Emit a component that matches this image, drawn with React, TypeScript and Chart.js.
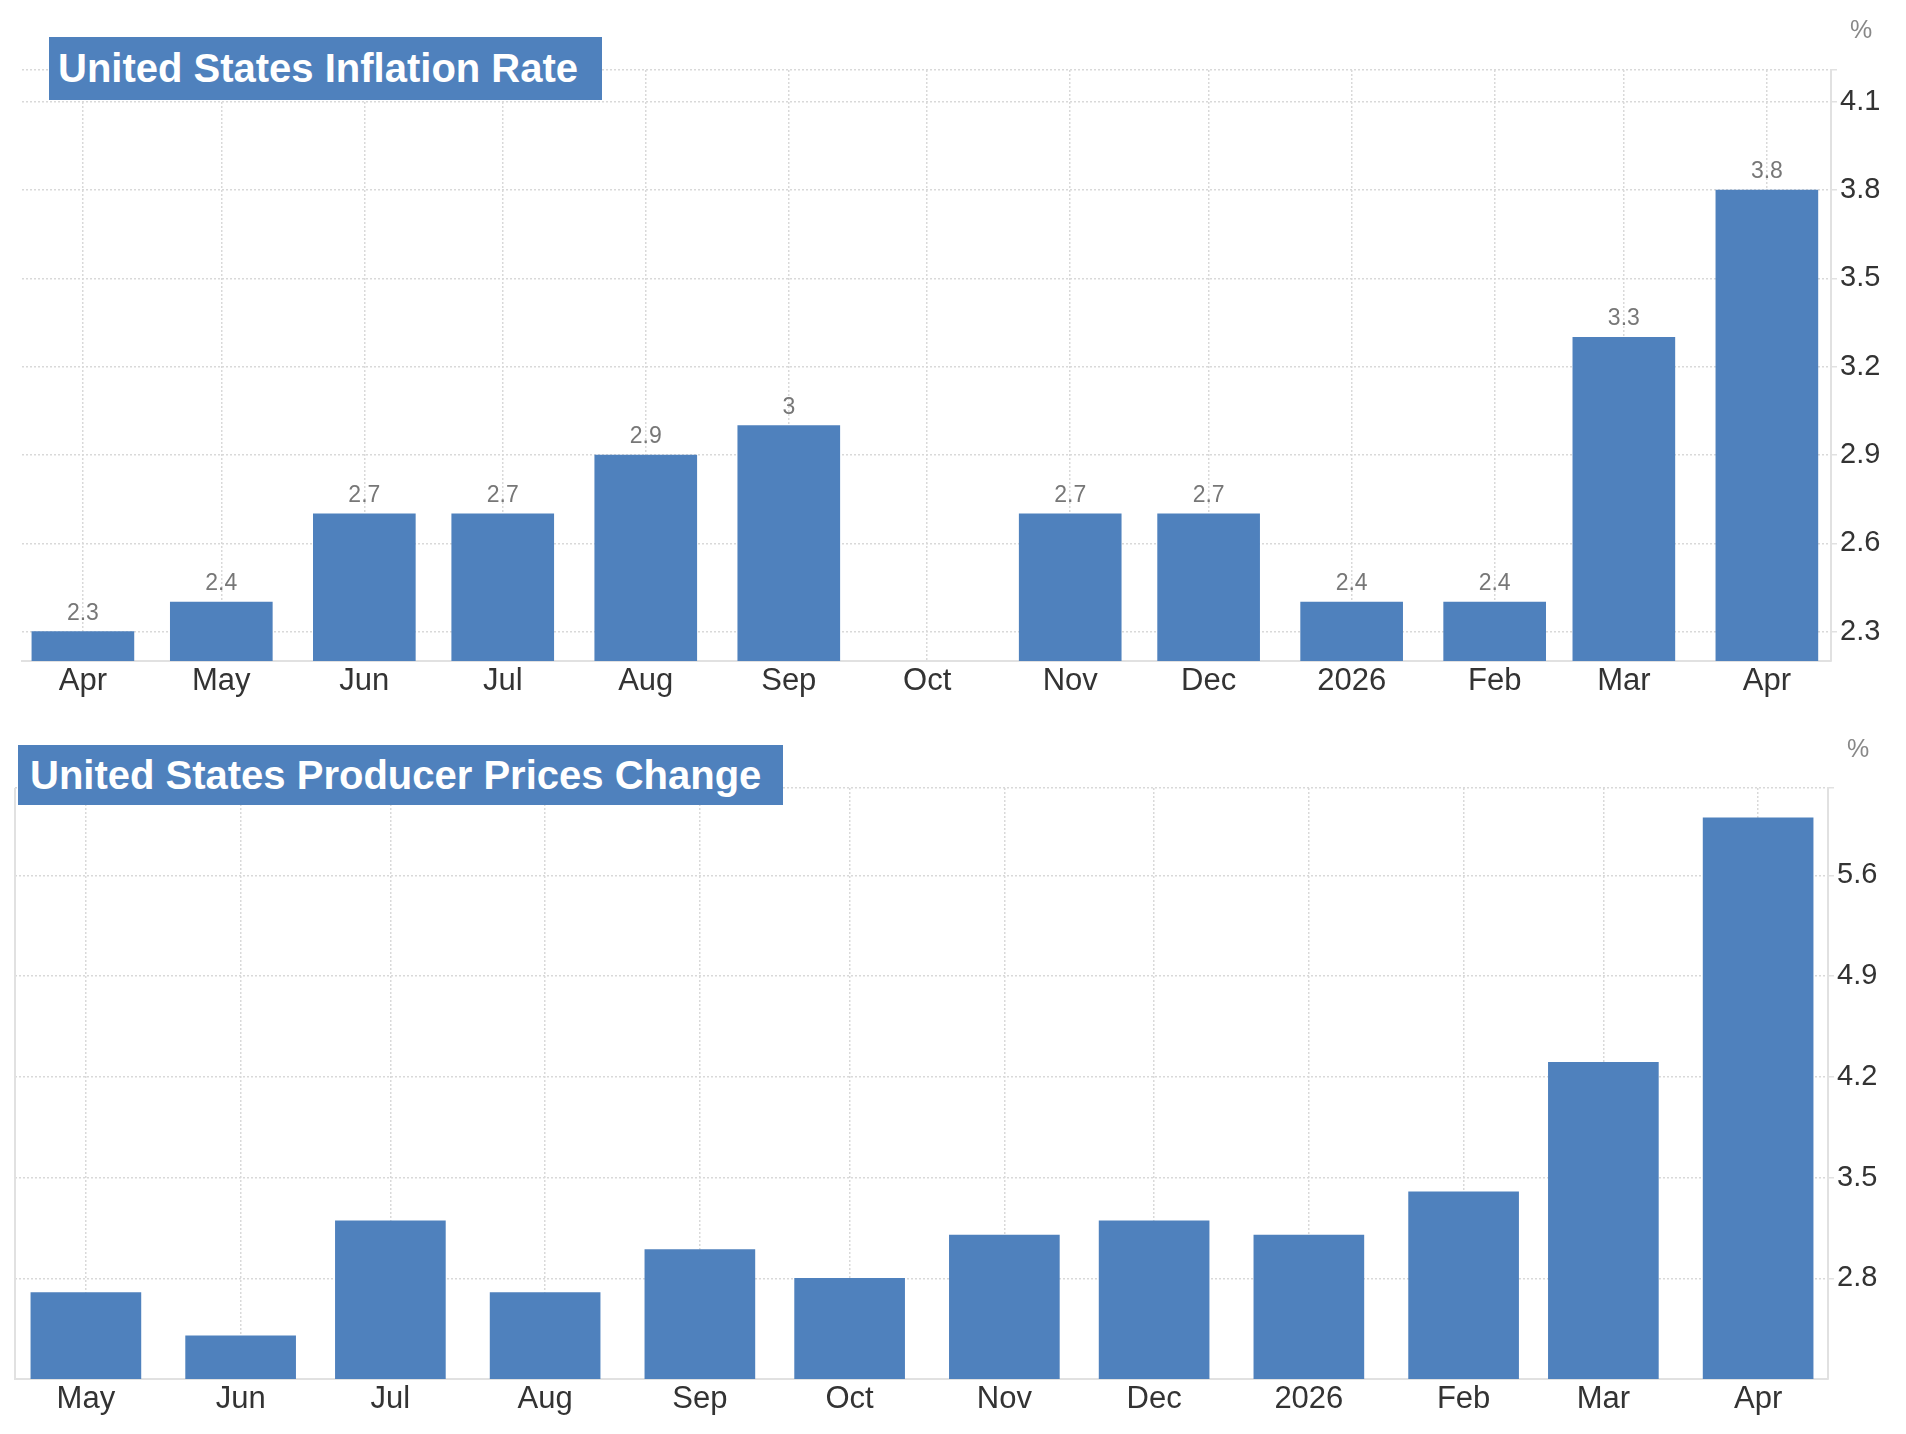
import React, { useEffect, useRef } from 'react';
import { Chart, registerables } from 'chart.js';

Chart.register(...registerables);

const FONT = '"Liberation Sans", Arial, Helvetica, sans-serif';
const BAR_COLOR = '#4f81bd';
const GRID_COLOR = '#d9d9d9';
const AXIS_COLOR = '#e1e1e1';
const W = 1906;

// ---- United States Inflation Rate (YoY, %) ----
const cpiMonths = ['2025-04', '2025-05', '2025-06', '2025-07', '2025-08', '2025-09', '2025-10', '2025-11', '2025-12', '2026-01', '2026-02', '2026-03', '2026-04'];
const cpiValues: (number | null)[] = [2.3, 2.4, 2.7, 2.7, 2.9, 3, null, 2.7, 2.7, 2.4, 2.4, 3.3, 3.8];
const cpiTickLabels = ['Apr', 'May', 'Jun', 'Jul', 'Aug', 'Sep', 'Oct', 'Nov', 'Dec', '2026', 'Feb', 'Mar', 'Apr'];
const cpiYTicks = [2.3, 2.6, 2.9, 3.2, 3.5, 3.8, 4.1];
const cpiYTickLabels = ['2.3', '2.6', '2.9', '3.2', '3.5', '3.8', '4.1'];

// ---- United States Producer Prices Change (YoY, %) ----
const ppiMonths = ['2025-05', '2025-06', '2025-07', '2025-08', '2025-09', '2025-10', '2025-11', '2025-12', '2026-01', '2026-02', '2026-03', '2026-04'];
const ppiValues: (number | null)[] = [2.7, 2.4, 3.2, 2.7, 3.0, 2.8, 3.1, 3.2, 3.1, 3.4, 4.3, 6.0];
const ppiTickLabels = ['May', 'Jun', 'Jul', 'Aug', 'Sep', 'Oct', 'Nov', 'Dec', '2026', 'Feb', 'Mar', 'Apr'];
const ppiYTicks = [2.8, 3.5, 4.2, 4.9, 5.6];
const ppiYTickLabels = ['2.8', '3.5', '4.2', '4.9', '5.6'];

function dayNum(ym: string): number {
  const [y, m] = ym.split('-').map(Number);
  return Date.UTC(y, m - 1, 1) / 86400000;
}

type Spec = {
  months: string[];
  values: (number | null)[];
  tickLabels: string[];
  yTicks: number[];
  yTickLabels: string[];
  yMin: number;
  yMax: number;
  padStart: number;
  padEnd: number;
  barWidth: number;
  showValues: boolean;
  leftBorder: boolean;
  height: number;
  area: { left: number; top: number; right: number; bottom: number };
  unit: { x: number; y: number };
};

const cpiSpec: Spec = {
  months: cpiMonths,
  values: cpiValues,
  tickLabels: cpiTickLabels,
  yTicks: cpiYTicks,
  yTickLabels: cpiYTickLabels,
  yMin: 2.2,
  yMax: 4.208,
  padStart: 13.2,
  padEnd: 13.9,
  barWidth: 102,
  showValues: true,
  leftBorder: false,
  height: 715,
  area: { left: 22, top: 70, right: 1831, bottom: 661 },
  unit: { x: 1850, y: 38 },
};

const ppiSpec: Spec = {
  months: ppiMonths,
  values: ppiValues,
  tickLabels: ppiTickLabels,
  yTicks: ppiYTicks,
  yTickLabels: ppiYTickLabels,
  yMin: 2.1,
  yMax: 6.207,
  padStart: 14.2,
  padEnd: 14.0,
  barWidth: 110,
  showValues: false,
  leftBorder: true,
  height: 719,
  area: { left: 15, top: 73, right: 1828, bottom: 664 },
  unit: { x: 1847, y: 42 },
};

function BarPanel({ spec, top }: { spec: Spec; top: number }) {
  const ref = useRef<HTMLCanvasElement>(null);
  useEffect(() => {
    const canvas = ref.current;
    if (!canvas) return;
    const xs = spec.months.map(dayNum);
    const data = xs.map((x, i) => ({ x, y: spec.values[i] }));

    const extras = {
      id: 'extras',
      afterDatasetsDraw(chart: any) {
        const ctx = chart.ctx;
        const ca = chart.chartArea;
        ctx.save();
        if (spec.leftBorder) {
          ctx.strokeStyle = AXIS_COLOR;
          ctx.lineWidth = 2;
          ctx.beginPath();
          ctx.moveTo(ca.left, ca.top);
          ctx.lineTo(ca.left, ca.bottom);
          ctx.stroke();
        }
        if (spec.showValues) {
          const meta = chart.getDatasetMeta(0);
          ctx.fillStyle = '#777777';
          ctx.font = `23px ${FONT}`;
          ctx.textAlign = 'center';
          ctx.textBaseline = 'alphabetic';
          meta.data.forEach((el: any, i: number) => {
            const v = spec.values[i];
            if (v === null || v === undefined) return;
            ctx.fillText(String(v), el.x, el.y - 12);
          });
        }
        ctx.fillStyle = '#888888';
        ctx.font = `25px ${FONT}`;
        ctx.textAlign = 'left';
        ctx.textBaseline = 'alphabetic';
        ctx.fillText('%', spec.unit.x, spec.unit.y);
        ctx.restore();
      },
    };

    const chart = new Chart(canvas, {
      type: 'bar',
      data: {
        datasets: [
          {
            data: data as any,
            backgroundColor: BAR_COLOR,
            borderWidth: 0,
            barThickness: spec.barWidth,
          },
        ],
      },
      options: {
        responsive: false,
        animation: false,
        layout: { padding: { left: spec.area.left, top: spec.area.top, right: 0, bottom: 0 } },
        plugins: {
          legend: { display: false },
          tooltip: { enabled: false },
          title: { display: false },
        },
        scales: {
          x: {
            type: 'linear',
            position: 'bottom',
            min: xs[0] - spec.padStart,
            max: xs[xs.length - 1] + spec.padEnd,
            offset: false,
            afterBuildTicks: (s: any) => {
              s.ticks = xs.map((v) => ({ value: v }));
            },
            afterFit: (s: any) => {
              s.height = spec.height - spec.area.bottom;
            },
            ticks: {
              autoSkip: false,
              maxRotation: 0,
              minRotation: 0,
              padding: 2,
              color: '#333333',
              font: { family: FONT, size: 31 },
              callback: (_v: any, i: number) => spec.tickLabels[i],
            },
            grid: { offset: false, drawTicks: false, color: GRID_COLOR, lineWidth: 1.5 },
            border: { display: true, color: AXIS_COLOR, width: 2, dash: [2, 2] },
          } as any,
          y: {
            type: 'linear',
            position: 'right',
            min: spec.yMin,
            max: spec.yMax,
            beginAtZero: false,
            afterBuildTicks: (s: any) => {
              s.ticks = [...spec.yTicks, spec.yMax].map((v) => ({ value: v }));
            },
            afterFit: (s: any) => {
              s.width = W - spec.area.right;
            },
            ticks: {
              padding: 3,
              color: '#333333',
              font: { family: FONT, size: 29 },
              callback: (_v: any, i: number) => (i < spec.yTickLabels.length ? spec.yTickLabels[i] : ''),
            },
            grid: {
              color: GRID_COLOR,
              lineWidth: 1.5,
              drawTicks: true,
              tickLength: 6,
              tickColor: AXIS_COLOR,
              tickWidth: 1.5,
              tickBorderDash: [],
            },
            border: { display: true, color: AXIS_COLOR, width: 2, dash: [2, 2] },
          } as any,
        },
      },
      plugins: [extras],
    });
    return () => chart.destroy();
  }, [spec]);

  return (
    <canvas
      ref={ref}
      width={W}
      height={spec.height}
      style={{ position: 'absolute', left: 0, top, width: W, height: spec.height, display: 'block' }}
    />
  );
}

const titleBase: React.CSSProperties = {
  position: 'absolute',
  boxSizing: 'border-box',
  background: BAR_COLOR,
  color: '#ffffff',
  fontFamily: FONT,
  fontWeight: 'bold',
  fontSize: 40,
  whiteSpace: 'nowrap',
  overflow: 'hidden',
};

export default function App() {
  return (
    <div
      style={{
        position: 'fixed',
        left: 0,
        top: 0,
        width: W,
        height: 1434,
        background: '#ffffff',
        overflow: 'hidden',
      }}
    >
      <BarPanel spec={cpiSpec} top={0} />
      <BarPanel spec={ppiSpec} top={715} />
      <div style={{ ...titleBase, left: 49, top: 37, width: 553, height: 63, lineHeight: '63px', paddingLeft: 9 }}>
        United States Inflation Rate
      </div>
      <div style={{ ...titleBase, left: 18, top: 745, width: 765, height: 60, lineHeight: '60px', paddingLeft: 12 }}>
        United States Producer Prices Change
      </div>
    </div>
  );
}
